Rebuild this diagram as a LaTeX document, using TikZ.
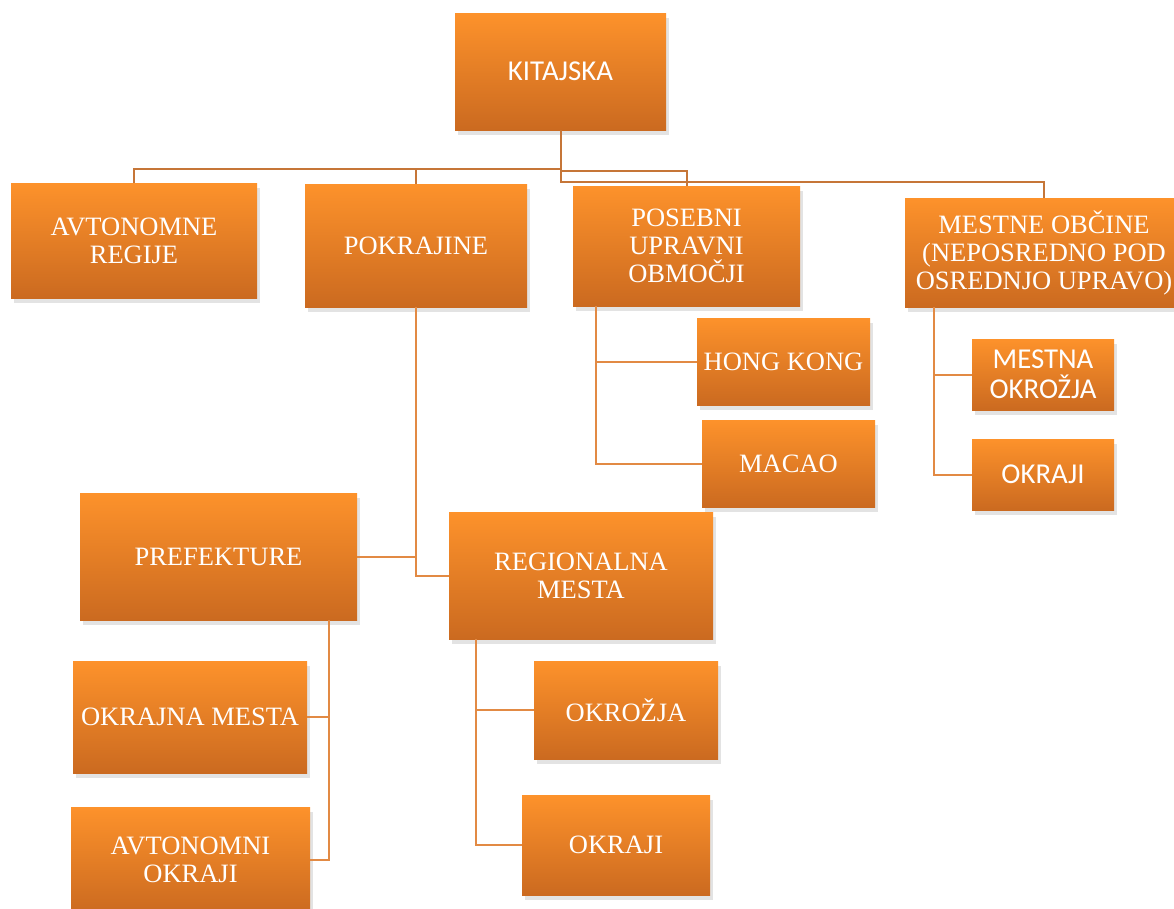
\documentclass[tikz,border=0pt]{standalone}
\usepackage{fontspec}
\setmainfont{Liberation Serif}
\newfontfamily\calib{Carlito}
\usetikzlibrary{shadows,calc}
\definecolor{orTop}{RGB}{253,146,43}
\definecolor{orBot}{RGB}{203,106,32}
\definecolor{lineA}{RGB}{198,118,56}
\definecolor{lineB}{RGB}{226,138,68}
\tikzset{
  box/.style={rectangle, draw=none, top color=orTop, bottom color=orBot,
    text=white, align=center, inner sep=0pt,
    font=\fontsize{26.5}{28}\selectfont,
    drop shadow={opacity=0.22, shadow xshift=3pt, shadow yshift=-5pt}},
  sbox/.style={box, font=\calib\fontsize{28.8}{30}\selectfont},
  conn/.style={draw=lineA, line width=2pt},
  conn2/.style={draw=lineB, line width=2pt}
}
\begin{document}
\begin{tikzpicture}[x=1pt,y=-1pt]
\clip (0,0) rectangle (1174,908);
\fill[white] (0,0) rectangle (1174,908);
% nodes
\node[sbox, minimum width=211, minimum height=117] (kit) at (560.5,71.5) {KITAJSKA};
\node[box, minimum width=246, minimum height=115] (avt) at (134,240.5) {AVTONOMNE\\REGIJE};
\node[box, minimum width=222, minimum height=123] (pok) at (416,245.5) {POKRAJINE};
\node[box, minimum width=227, minimum height=120] (pos) at (686.5,246) {POSEBNI\\UPRAVNI\\OBMOČJI};
\node[box, minimum width=278, minimum height=109] (mob) at (1044,252.5) {MESTNE OBČINE\\(NEPOSREDNO POD\\OSREDNJO UPRAVO)};
\node[box, minimum width=173, minimum height=87] (hk) at (783.5,361.5) {HONG KONG};
\node[box, minimum width=173, minimum height=87] (mac) at (788.5,463.5) {MACAO};
\node[sbox, minimum width=142, minimum height=71] (mok) at (1043,374.5) {MESTNA\\OKROŽJA};
\node[sbox, minimum width=142, minimum height=71] (okr) at (1043,474.5) {OKRAJI};
\node[box, minimum width=277, minimum height=127] (pre) at (218.5,556.5) {PREFEKTURE};
\node[box, minimum width=264, minimum height=127] (reg) at (581,575.5) {REGIONALNA\\MESTA};
\node[box, minimum width=234, minimum height=112] (om) at (190,717) {OKRAJNA MESTA};
\node[box, minimum width=239, minimum height=106] (ao) at (190.5,860) {AVTONOMNI\\OKRAJI};
\node[box, minimum width=184, minimum height=98] (okz) at (626,710) {OKROŽJA};
\node[box, minimum width=188, minimum height=100] (okb) at (616,845) {OKRAJI};
% connectors
\draw[conn] (kit.south) -- ++(0,39) -| (avt.north);
\draw[conn] (kit.south) -- ++(0,39) -| (pok.north);
\draw[conn] (kit.south) -- ++(0,41) -| (pos.north);
\draw[conn] (kit.south) -- ++(0,52) -| (mob.north);
\draw[conn2] (pok.south) |- (pre.east);
\draw[conn2] (pok.south) |- (reg.west);
\draw[conn2] ($(pos.south west)+(23,0)$) |- (hk.west);
\draw[conn2] ($(pos.south west)+(23,0)$) |- (mac.west);
\draw[conn2] ($(mob.south west)+(29,0)$) |- (mok.west);
\draw[conn2] ($(mob.south west)+(29,0)$) |- (okr.west);
\draw[conn2] ($(pre.south east)+(-28,0)$) |- (om.east);
\draw[conn2] ($(pre.south east)+(-28,0)$) |- (ao.east);
\draw[conn2] ($(reg.south west)+(27,0)$) |- (okz.west);
\draw[conn2] ($(reg.south west)+(27,0)$) |- (okb.west);
\end{tikzpicture}
\end{document}
